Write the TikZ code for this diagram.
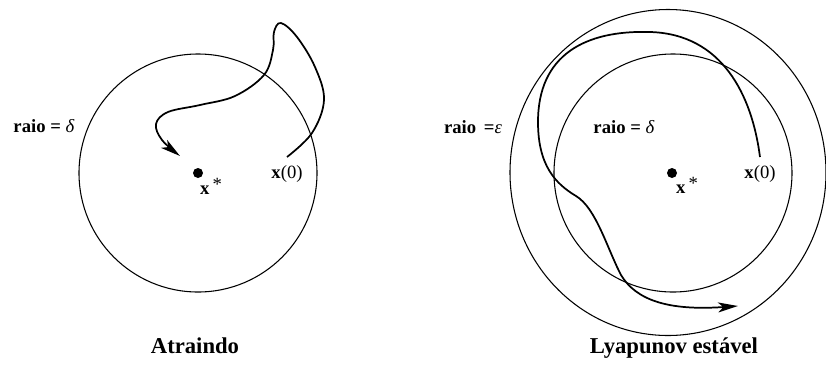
\documentclass[tikz,border=0pt]{standalone}
\usepackage{fontspec}
\setmainfont{Liberation Serif}
\usetikzlibrary{arrows.meta}

\begin{document}
\begin{tikzpicture}[x=0.75pt, y=-0.75pt,
    ring/.style={line width=0.8pt},
    traj/.style={line width=1.3pt, -{Stealth[length=15pt,width=7.5pt,inset=4pt]}},
    eqpt/.style={circle, fill, inner sep=0pt, minimum size=7.5pt},
    lbl/.style={font=\fontsize{14}{16}\selectfont\bfseries, anchor=base, inner sep=0pt},
    ttl/.style={font=\fontsize{17}{20}\selectfont\bfseries, anchor=base, inner sep=0pt}]
    \useasboundingbox (0,0) rectangle (826,365);

    % Atraindo
    \node[eqpt] (xsL) at (198,173) {};
    \draw[ring] (xsL.center) circle[radius=119];
    \node[lbl] (raioL) at (44,132) {raio = \textmd{\itshape δ}};
    \node[lbl] (starL) at (211,194) {x\,\textmd{\raisebox{0.45ex}{*}}};
    \node[lbl] (initL) at (287,178) {x\textmd{(0)}};
    \coordinate (x0L) at (287,157);
    \coordinate (endL) at (180,156);
    \draw[traj] plot[smooth, tension=0.6] coordinates {(x0L) (312,133) (324,100)
        (315,67) (297,37) (281,23) (274,32) (273,50) (264,75) (235,96) (200,105)
        (168,112) (156,124) (162,140) (endL)};
    \node[ttl] (titL) at (195,353) {Atraindo};

    % Lyapunov estavel
    \node[eqpt] (xsR) at (672,173) {};
    \draw[ring] (668,172.5) ellipse[x radius=158, y radius=163];
    \draw[ring] (673,173) circle[radius=119];
    \node[lbl] (raioE) at (473,133) {raio \,=\textmd{\itshape ε}};
    \node[lbl] (raioR) at (624,133) {raio = \textmd{\itshape δ}};
    \node[lbl] (starR) at (687,193) {x\,\textmd{\raisebox{0.45ex}{*}}};
    \node[lbl] (initR) at (760,178) {x\textmd{(0)}};
    \coordinate (x0R) at (760,157);
    \coordinate (topR) at (650,32);
    \coordinate (leftR) at (538,122);
    \coordinate (bendR) at (576,196);
    \coordinate (lowR) at (621,275);
    \coordinate (endR) at (738,306);
    \draw[traj] (x0R) .. controls (752,95) and (722,34) .. (topR)
        .. controls (585,30) and (538,55) .. (leftR)
        .. controls (538,166) and (556,184) .. (bendR)
        .. controls (596,208) and (607,248) .. (lowR)
        .. controls (636,300) and (668,311) .. (endR);
    \node[ttl] (titR) at (674,353) {Lyapunov estável};
\end{tikzpicture}
\end{document}
